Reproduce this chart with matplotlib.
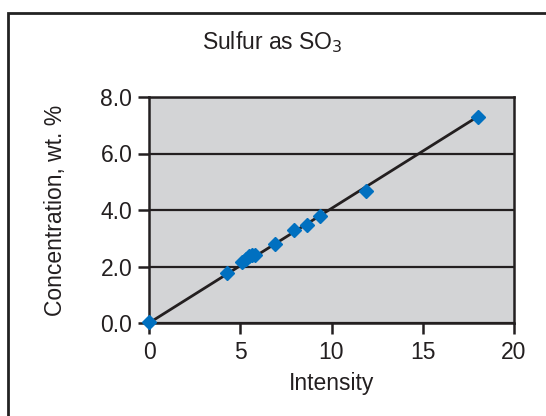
import matplotlib
matplotlib.use("Agg")
from matplotlib import pyplot as plt
from matplotlib.patches import Rectangle

intensity = [0.0, 4.3, 5.1, 5.3, 5.5, 5.65, 5.8, 6.9, 7.95, 8.65, 9.35, 11.9, 18.0]
conc = [0.05, 1.77, 2.16, 2.28, 2.36, 2.4, 2.42, 2.8, 3.28, 3.47, 3.78, 4.68, 7.3]
trend_x = [0.0, 18.0]
trend_y = [0.0, 7.3]
xticks = [0, 5, 10, 15, 20]
yticks = [0.0, 2.0, 4.0, 6.0, 8.0]

plt.rcParams["font.family"] = ["Liberation Sans", "DejaVu Sans"]
fs = 16.5

fig = plt.figure(figsize=(5.46, 4.16), dpi=100)
fig.patches.append(
    Rectangle((8 / 546, -0.1), 1.2, (416 - 13) / 416 + 0.1,
              transform=fig.transFigure, fill=False, edgecolor="#222222", linewidth=2)
)

ax = fig.add_axes([149 / 546, 1 - 323 / 416, (514 - 149) / 546, (323 - 97) / 416])
ax.set_facecolor("#d3d4d6")
ax.plot(trend_x, trend_y, color="#231f20", linewidth=2, zorder=3)
ax.plot(intensity, conc, "D", color="#0070c0", markersize=7, zorder=4, clip_on=False)

ax.set_xlim(0, 20)
ax.set_ylim(0, 8)
ax.set_xticks(xticks)
ax.set_yticks(yticks)
ax.set_yticklabels(["%.1f" % v for v in yticks])
ax.yaxis.grid(True, color="#231f20", linewidth=1.6)
ax.set_axisbelow(True)
for s in ax.spines.values():
    s.set_linewidth(1.8)
    s.set_color("#231f20")
ax.tick_params(direction="out", length=8, width=1.8, color="#231f20",
               labelsize=fs, labelcolor="#231f20")
ax.tick_params(axis="x", pad=5)
ax.tick_params(axis="y", pad=4)

ax.set_xlabel("Intensity", fontsize=fs, labelpad=6, color="#231f20")
ax.set_ylabel("Concentration, wt. %", fontsize=fs, labelpad=24, color="#231f20")
fig.text(272 / 546, 1 - 42 / 416, r"Sulfur as SO$_3$", ha="center", va="center",
         fontsize=fs, color="#231f20")

fig.savefig("out.png", dpi=100)
